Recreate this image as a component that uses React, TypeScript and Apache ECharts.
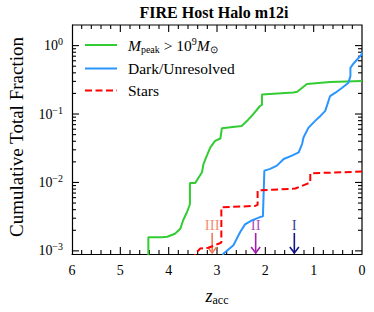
import React, { useEffect, useRef } from "react";
import * as echarts from "echarts";

const FONT = "Liberation Serif";

// Mpeak > 1e9 Msun (green)
const zGreen = [4.42, 4.42, 4.14, 4.03, 3.87, 3.76, 3.70, 3.62, 3.56, 3.56, 3.45, 3.38, 3.31, 3.28, 3.21, 3.14, 3.04, 2.93, 2.90, 2.49, 2.36, 2.25, 2.11, 2.07, 2.07, 1.42, 1.34, 1.14, 0.66, 0];
const fGreen = [0.0005, 0.00158, 0.00158, 0.00161, 0.00178, 0.0021, 0.0028, 0.0037, 0.0048, 0.0098, 0.0098, 0.0118, 0.0141, 0.0186, 0.0246, 0.0322, 0.0406, 0.0439, 0.0618, 0.067, 0.082, 0.0993, 0.131, 0.136, 0.193, 0.206, 0.212, 0.274, 0.293, 0.303];

// Dark / Unresolved (blue)
const zDark = [2.91, 2.87, 2.66, 2.52, 2.42, 2.28, 2.11, 2.05, 2.02, 1.90, 1.76, 1.62, 1.45, 1.31, 1.24, 1.21, 1.11, 0.97, 0.86, 0.76, 0.66, 0.55, 0.41, 0.28, 0.24, 0.24, 0.17, 0.10, 0.01, 0];
const fDark = [0.0005, 0.00091, 0.00121, 0.00189, 0.00244, 0.00279, 0.00312, 0.00319, 0.0149, 0.0158, 0.0176, 0.022, 0.0246, 0.0275, 0.0364, 0.0454, 0.0628, 0.0794, 0.0938, 0.111, 0.183, 0.205, 0.242, 0.286, 0.358, 0.472, 0.553, 0.626, 0.74, 0.8];

// Stars (red dashed)
const zStars = [3.49, 3.45, 3.38, 3.35, 3.18, 3.04, 2.97, 2.91, 2.91, 2.21, 2.16, 2.16, 1.38, 1.14, 1.07, 1.07, 0];
const fStars = [0.0005, 0.00093, 0.00102, 0.00108, 0.00111, 0.00121, 0.00127, 0.00132, 0.00432, 0.00454, 0.0047, 0.00762, 0.00815, 0.00954, 0.00998, 0.0136, 0.0144];

// Arrow markers
const arrowZ = [3.1, 2.2, 1.4];
const arrowLabels = ["III", "II", "I"];
const arrowColors = ["#f27a55", "#a21fae", "#13138a"];

const seriesNames = ["Mpeak", "Dark/Unresolved", "Stars"];
const seriesColors = ["#33cc33", "#2b95ff", "#ff0000"];

const Y_MIN = 0.0009;
const Y_MAX = 2;
const X_MIN = 0;
const X_MAX = 6;

function buildYTicks() {
  const out: number[][] = [];
  for (let e = -4; e <= 0; e++) {
    for (let m = 1; m <= 9; m++) {
      const v = m * Math.pow(10, e);
      if (v >= Y_MIN * 1.0001 && v <= Y_MAX * 0.9999) out.push([X_MAX, v, m === 1 ? 1 : 0]);
    }
  }
  return out;
}

function buildXTicks() {
  const out: number[][] = [];
  for (let k = 1; k < 30; k++) out.push([k / 5, k % 5 === 0 ? 1 : 0]);
  return out;
}

export default function App() {
  const ref = useRef<HTMLDivElement>(null);
  useEffect(() => {
    if (!ref.current) return;
    const chart = echarts.init(ref.current, null, { renderer: "svg" });
    const axisLine = { show: true, onZero: false, lineStyle: { color: "#000", width: 1.2 } };
    const yTicks = buildYTicks();
    const xTicks = buildXTicks();
    const option: any = {
      animation: false,
      grid: { left: 72, right: 12, top: 25, bottom: 58 },
      xAxis: [
        {
          type: "value",
          min: X_MIN,
          max: X_MAX,
          interval: 1,
          inverse: true,
          position: "bottom",
          axisLine,
          axisTick: { show: false },
          splitLine: { show: false },
          axisLabel: { color: "#000", fontFamily: FONT, fontSize: 14, margin: 9 },
        },
      ],
      yAxis: [
        {
          type: "log",
          logBase: 10,
          min: Y_MIN,
          max: Y_MAX,
          axisLine,
          axisTick: { show: false },
          splitLine: { show: false },
          axisLabel: {
            margin: 9,
            showMinLabel: false,
            showMaxLabel: false,
            formatter: (v: number) => {
              const l = Math.log10(v);
              const r = Math.round(l);
              if (Math.abs(l - r) > 1e-6) return "";
              return "{b|10}{p|" + (r < 0 ? "\u2212" + -r : String(r)) + "}";
            },
            rich: {
              b: { fontFamily: FONT, fontSize: 14, color: "#000", lineHeight: 18 },
              p: { fontFamily: FONT, fontSize: 10, color: "#000", verticalAlign: "top", lineHeight: 12 },
            },
          },
        },
      ],
      series: [
        {
          name: seriesNames[0],
          type: "line",
          data: zGreen.map((z, i) => [z, fGreen[i]]),
          symbol: "none",
          clip: true,
          lineStyle: { color: seriesColors[0], width: 2 },
          itemStyle: { color: seriesColors[0] },
        },
        {
          name: seriesNames[1],
          type: "line",
          data: zDark.map((z, i) => [z, fDark[i]]),
          symbol: "none",
          clip: true,
          lineStyle: { color: seriesColors[1], width: 2 },
          itemStyle: { color: seriesColors[1] },
        },
        {
          name: seriesNames[2],
          type: "line",
          data: zStars.map((z, i) => [z, fStars[i]]),
          symbol: "none",
          clip: true,
          lineStyle: { color: seriesColors[2], width: 2, type: [7, 3.5] },
          itemStyle: { color: seriesColors[2] },
        },
        {
          name: "frame",
          type: "custom",
          data: [[X_MAX, Y_MIN]],
          encode: { x: 0, y: 1 },
          renderItem: (params: any, api: any) => {
            const a = api.coord([X_MAX, Y_MAX]);
            const b = api.coord([X_MIN, Y_MAX]);
            const c = api.coord([X_MIN, Y_MIN]);
            return { type: "polyline", shape: { points: [a, b, c] }, style: { stroke: "#000", lineWidth: 1.2, fill: null } };
          },
        },
        {
          name: "yticks",
          type: "custom",
          data: yTicks,
          encode: { x: 0, y: 1 },
          renderItem: (params: any, api: any) => {
            const yv = api.value(1);
            const len = api.value(2) === 1 ? 7 : 4;
            const p1 = api.coord([X_MAX, yv]);
            const p2 = api.coord([X_MIN, yv]);
            return {
              type: "group",
              children: [
                { type: "line", shape: { x1: p1[0], y1: p1[1], x2: p1[0] + len, y2: p1[1] }, style: { stroke: "#000", lineWidth: 1.1 } },
                { type: "line", shape: { x1: p2[0] - len, y1: p2[1], x2: p2[0], y2: p2[1] }, style: { stroke: "#000", lineWidth: 1.1 } },
              ],
            };
          },
        },
        {
          name: "arrows",
          type: "custom",
          data: arrowZ.map((z, i) => [z, Y_MIN, i]),
          encode: { x: 0, y: 1 },
          renderItem: (params: any, api: any) => {
            const z = api.value(0);
            const i = api.value(2);
            const p = api.coord([z, Y_MIN]);
            const x = p[0];
            const yb = p[1];
            const c = arrowColors[i];
            return {
              type: "group",
              children: [
                { type: "line", shape: { x1: x, y1: yb - 21, x2: x, y2: yb - 1 }, style: { stroke: c, lineWidth: 1.6 } },
                { type: "polyline", shape: { points: [[x - 4.5, yb - 7], [x, yb - 1], [x + 4.5, yb - 7]] }, style: { stroke: c, lineWidth: 1.6, fill: null } },
                {
                  type: "text",
                  x,
                  y: yb - 29,
                  style: { text: arrowLabels[i], font: `15px "${FONT}"`, fill: c, opacity: 0.85, align: "center", verticalAlign: "middle" },
                },
              ],
            };
          },
        },
      ],
    };
    chart.setOption(option);

    const graphics: any[] = [
      {
        type: "text",
        x: 214,
        y: 12,
        style: { text: "FIRE Host Halo m12i", font: `bold 16px "${FONT}"`, fill: "#000", align: "center", verticalAlign: "middle" },
      },
      {
        type: "text",
        x: 16,
        y: 137,
        rotation: Math.PI / 2,
        style: { text: "Cumulative Total Fraction", font: `19px "${FONT}"`, fill: "#000", align: "center", verticalAlign: "middle" },
      },
      {
        type: "text",
        x: 217,
        y: 296,
        style: {
          text: "{i|z}{s|acc}",
          align: "center",
          verticalAlign: "middle",
          rich: {
            i: { fontFamily: FONT, fontStyle: "italic", fontSize: 18, fill: "#000", lineHeight: 20 },
            s: { fontFamily: FONT, fontSize: 12, fill: "#000", verticalAlign: "bottom", lineHeight: 12 },
          },
        },
      },
    ];
    const legendY = [45, 68.5, 90.5];
    seriesNames.forEach((n, i) => {
      graphics.push({
        type: "line",
        shape: { x1: 85, y1: legendY[i], x2: 117, y2: legendY[i] },
        style: { stroke: seriesColors[i], lineWidth: 2, lineDash: i === 2 ? [7, 3.5] : null },
      });
      graphics.push({
        type: "text",
        x: 128,
        y: legendY[i],
        style: i === 0
          ? {
              text: "{i|M}{s|peak}{t| > 10}{p|9}{i|M}{s|⊙}",
              align: "left",
              verticalAlign: "middle",
              rich: {
                i: { fontFamily: FONT, fontStyle: "italic", fontSize: 15.5, fill: "#000", lineHeight: 18 },
                t: { fontFamily: FONT, fontSize: 15.5, fill: "#000", lineHeight: 18 },
                s: { fontFamily: FONT, fontSize: 10, fill: "#000", verticalAlign: "bottom", lineHeight: 12 },
                p: { fontFamily: FONT, fontSize: 10, fill: "#000", verticalAlign: "top", lineHeight: 12 },
              },
            }
          : { text: n, font: `15.5px "${FONT}"`, fill: "#000", align: "left", verticalAlign: "middle" },
      });
    });
    // x-axis ticks (bottom and top), positioned through the axis scales
    xTicks.forEach((t) => {
      const len = t[1] === 1 ? 7 : 4;
      const pb = chart.convertToPixel({ gridIndex: 0 }, [t[0], Y_MIN]) as number[];
      const pt = chart.convertToPixel({ gridIndex: 0 }, [t[0], Y_MAX]) as number[];
      graphics.push({ type: "line", shape: { x1: pb[0], y1: pb[1], x2: pb[0], y2: pb[1] - len }, style: { stroke: "#000", lineWidth: 1.1 } });
      graphics.push({ type: "line", shape: { x1: pt[0], y1: pt[1], x2: pt[0], y2: pt[1] + len }, style: { stroke: "#000", lineWidth: 1.1 } });
    });
    chart.setOption({ graphic: graphics });
    return () => chart.dispose();
  }, []);
  return <div ref={ref} style={{ width: 374, height: 312, position: "absolute", left: 0, top: 0 }} />;
}
